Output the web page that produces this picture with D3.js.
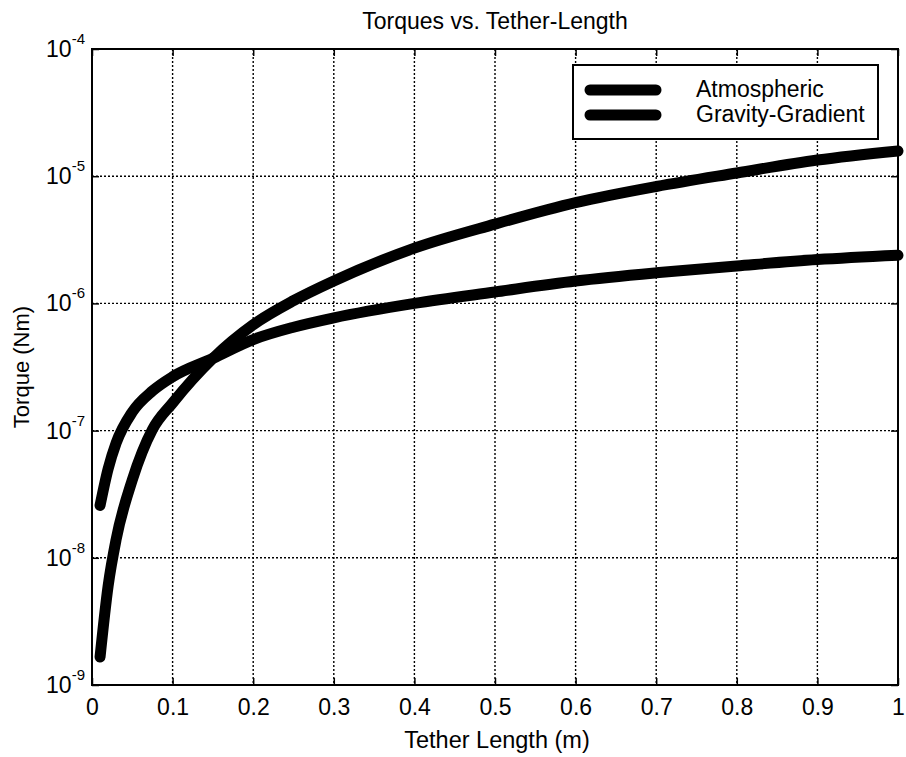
<!DOCTYPE html>
<html>
<head>
<meta charset="utf-8">
<script src="https://cdn.jsdelivr.net/npm/d3@7"></script>
<style>
    body { margin: 0; background: #fff; }
    svg { display: block; font-family: "Liberation Sans", Arial, sans-serif; }
    .grid line { stroke: #000; stroke-width: 1.4; stroke-dasharray: 2,2; }
</style>
</head>
<body>
<svg id="chart" width="906" height="757"></svg>
<script>

// tether length (m)
const lengths = [0.01, 0.02, 0.03, 0.05, 0.075, 0.1, 0.15, 0.2, 0.25, 0.3, 0.4, 0.5, 0.6, 0.7, 0.8, 0.9, 1.0];

// torques (Nm)
const atmospheric = [2.58e-8, 5.0e-8, 8.0e-8, 1.4e-7, 2.05e-7, 2.65e-7, 3.7e-7, 5.2e-7, 6.5e-7, 7.7e-7, 1.0e-6, 1.23e-6, 1.5e-6, 1.74e-6, 1.97e-6, 2.21e-6, 2.39e-6];
const gravityGradient = [1.66e-9, 6.0e-9, 1.4e-8, 4.1e-8, 1.02e-7, 1.65e-7, 3.7e-7, 6.8e-7, 1.05e-6, 1.5e-6, 2.72e-6, 4.2e-6, 6.2e-6, 8.3e-6, 1.06e-5, 1.34e-5, 1.58e-5];

const seriesNames = ['Atmospheric', 'Gravity-Gradient'];
const xTicks = [0, 0.1, 0.2, 0.3, 0.4, 0.5, 0.6, 0.7, 0.8, 0.9, 1];
const yExponents = [-4, -5, -6, -7, -8, -9];

const svg = d3.select('#chart');

const plotL = 92, plotR = 898, plotT = 49, plotB = 685;

const x = d3.scaleLinear().domain([0, 1]).range([plotL, plotR]);
const y = d3.scaleLog().domain([1e-9, 1e-4]).range([plotB, plotT]);

// grid
const grid = svg.append('g').attr('class', 'grid');
grid.selectAll('.gx')
    .data(xTicks.slice(1, -1))
    .enter()
    .append('line')
    .attr('x1', d => x(d)).attr('x2', d => x(d))
    .attr('y1', plotT).attr('y2', plotB);
grid.selectAll('.gy')
    .data(yExponents.slice(1, -1))
    .enter()
    .append('line')
    .attr('x1', plotL).attr('x2', plotR)
    .attr('y1', d => y(Math.pow(10, d))).attr('y2', d => y(Math.pow(10, d)));

// axes with inward ticks
const tickLen = 7;
svg.append('g')
    .attr('transform', `translate(0,${plotB})`)
    .call(d3.axisBottom(x).tickValues(xTicks).tickSizeInner(-tickLen).tickSizeOuter(0).tickFormat(d3.format('')))
    .call(g => {
        g.select('.domain').remove();
        g.selectAll('line').attr('stroke', '#000').attr('stroke-width', 1.5);
        g.selectAll('text').attr('font-size', 23).attr('fill', '#000').attr('dy', 0).attr('y', 30);
    });

svg.append('g')
    .attr('transform', `translate(0,${plotT})`)
    .call(d3.axisTop(x).tickValues(xTicks).tickSizeInner(-tickLen).tickSizeOuter(0).tickFormat(''))
    .call(g => {
        g.select('.domain').remove();
        g.selectAll('line').attr('stroke', '#000').attr('stroke-width', 1.5);
    });

const yTickVals = yExponents.map(e => Math.pow(10, e));
svg.append('g')
    .attr('transform', `translate(${plotL},0)`)
    .call(d3.axisLeft(y).tickValues(yTickVals).tickSizeInner(-tickLen).tickSizeOuter(0).tickFormat(''))
    .call(g => {
        g.select('.domain').remove();
        g.selectAll('line').attr('stroke', '#000').attr('stroke-width', 1.5);
    });
svg.append('g')
    .attr('transform', `translate(${plotR},0)`)
    .call(d3.axisRight(y).tickValues(yTickVals).tickSizeInner(-tickLen).tickSizeOuter(0).tickFormat(''))
    .call(g => {
        g.select('.domain').remove();
        g.selectAll('line').attr('stroke', '#000').attr('stroke-width', 1.5);
    });

// y tick labels as 10^n
const yLabels = svg.selectAll('.ylab')
    .data(yExponents)
    .enter()
    .append('text')
    .attr('class', 'ylab')
    .attr('text-anchor', 'end')
    .attr('x', 85)
    .attr('y', d => y(Math.pow(10, d)) + 8)
    .attr('fill', '#000');
yLabels.append('tspan').attr('font-size', 23).text('10');
yLabels.append('tspan').attr('font-size', 15).attr('dy', -13).text(d => d);

// frame
svg.append('rect')
    .attr('x', plotL).attr('y', plotT)
    .attr('width', plotR - plotL).attr('height', plotB - plotT)
    .attr('fill', 'none').attr('stroke', '#000').attr('stroke-width', 2);

// curves
const line = d3.line()
    .x(d => x(d[0]))
    .y(d => y(d[1]))
    .curve(d3.curveMonotoneX);

const series = [atmospheric, gravityGradient];
svg.selectAll('.curve')
    .data(series)
    .enter()
    .append('path')
    .attr('class', 'curve')
    .attr('d', d => line(lengths.map((l, i) => [l, d[i]])))
    .attr('fill', 'none')
    .attr('stroke', '#000')
    .attr('stroke-width', 11)
    .attr('stroke-linecap', 'round')
    .attr('stroke-linejoin', 'round');

// legend
const legend = svg.append('g');
legend.append('rect')
    .attr('x', 573).attr('y', 65)
    .attr('width', 305).attr('height', 74)
    .attr('fill', '#fff').attr('stroke', '#000').attr('stroke-width', 2);
seriesNames.forEach((name, i) => {
    const ly = 90 + i * 25;
    legend.append('line')
        .attr('x1', 590).attr('x2', 656)
        .attr('y1', ly).attr('y2', ly)
        .attr('stroke', '#000').attr('stroke-width', 11).attr('stroke-linecap', 'round');
    legend.append('text')
        .attr('x', 696).attr('y', ly + 7)
        .attr('font-size', 23)
        .attr('fill', '#000')
        .text(name);
});

// titles
svg.append('text')
    .attr('x', 495).attr('y', 29)
    .attr('text-anchor', 'middle')
    .attr('font-size', 23)
    .text('Torques vs. Tether-Length');

svg.append('text')
    .attr('x', 497).attr('y', 748)
    .attr('text-anchor', 'middle')
    .attr('font-size', 23.5)
    .text('Tether Length (m)');

svg.append('text')
    .attr('transform', 'translate(29,367) rotate(-90)')
    .attr('text-anchor', 'middle')
    .attr('font-size', 22)
    .text('Torque (Nm)');

</script>
</body>
</html>
